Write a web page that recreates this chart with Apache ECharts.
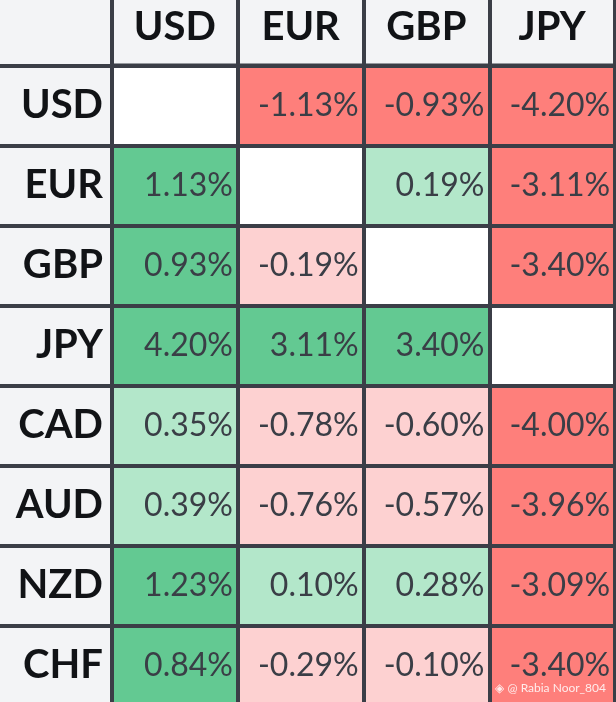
<!DOCTYPE html>
<html>
<head>
<meta charset="utf-8">
<script src="https://cdn.jsdelivr.net/npm/echarts@6/dist/echarts.min.js"></script>
<style>
html,body{margin:0;padding:0;background:#f3f4f6;}
#chart{width:616px;height:702px;}
</style>
</head>
<body>
<div id="chart"></div>
<script>
// Column currencies (quote) and row currencies (base)
const colCurrencies = ['USD', 'EUR', 'GBP', 'JPY'];
const rowCurrencies = ['USD', 'EUR', 'GBP', 'JPY', 'CAD', 'AUD', 'NZD', 'CHF'];

// Percentage change per row (null = same currency)
const rowUSD = [null, -1.13, -0.93, -4.20];
const rowEUR = [1.13, null, 0.19, -3.11];
const rowGBP = [0.93, -0.19, null, -3.40];
const rowJPY = [4.20, 3.11, 3.40, null];
const rowCAD = [0.35, -0.78, -0.60, -4.00];
const rowAUD = [0.39, -0.76, -0.57, -3.96];
const rowNZD = [1.23, 0.10, 0.28, -3.09];
const rowCHF = [0.84, -0.29, -0.10, -3.40];

const rows = [rowUSD, rowEUR, rowGBP, rowJPY, rowCAD, rowAUD, rowNZD, rowCHF];
const data = [];
rows.forEach((r, yi) => r.forEach((v, xi) => { if (v !== null) data.push([xi, yi, v]); }));

const LINE = '#3b3e47';
const chart = echarts.init(document.getElementById('chart'), null, {renderer: 'canvas'});
chart.setOption({
  backgroundColor: '#f3f4f6',
  animation: false,
  grid: {
    show: true, backgroundColor: '#ffffff', borderColor: LINE, borderWidth: 4,
    left: 112, right: 1, top: 65.5, height: 640, outerBoundsMode: 'none', containLabel: false
  },
  xAxis: {
    type: 'category', data: colCurrencies, position: 'top', z: 10,
    axisLine: {show: true, lineStyle: {color: LINE, width: 4}},
    axisTick: {show: true, interval: 0, length: 66, lineStyle: {color: LINE, width: 4}},
    splitLine: {show: true, interval: 0, lineStyle: {color: LINE, width: 4}},
    axisLabel: {interval: 0, margin: 38, verticalAlign: 'middle', fontFamily: 'Lato', fontWeight: 'bold', fontSize: 40, color: '#111316'}
  },
  yAxis: {
    type: 'category', data: rowCurrencies, inverse: true, z: 10,
    axisLine: {show: true, lineStyle: {color: LINE, width: 4}},
    axisTick: {show: true, interval: 0, length: 112, lineStyle: {color: LINE, width: 4}},
    splitLine: {show: true, interval: 0, lineStyle: {color: LINE, width: 4}},
    axisLabel: {interval: 0, margin: 9, align: 'right', verticalAlign: 'middle', fontFamily: 'Lato', fontWeight: 'bold', fontSize: 40, color: '#111316'}
  },
  visualMap: {
    type: 'piecewise', show: false, dimension: 2,
    pieces: [
      {lt: -0.8, color: '#fe7f7b'},
      {gte: -0.8, lt: 0, color: '#fdd1d1'},
      {gte: 0, lt: 0.8, color: '#b3e7ca'},
      {gte: 0.8, color: '#63c992'}
    ]
  },
  series: [{
    type: 'heatmap',
    data: data,
    itemStyle: {borderWidth: 0},
    label: {
      show: true, position: 'insideRight', distance: 5,
      fontFamily: 'Lato', fontWeight: 'normal', fontSize: 32, color: '#3a3e46',
      formatter: p => p.value[2].toFixed(2) + '%'
    },
    emphasis: {disabled: true}
  }],
  graphic: [{
    type: 'text', right: 10, bottom: 8, z: 100,
    style: {text: '◈ @ Rabia Noor_804', fontFamily: 'Lato', fontSize: 12, fill: 'rgba(255,255,255,0.85)'}
  }]
});
</script>
</body>
</html>
